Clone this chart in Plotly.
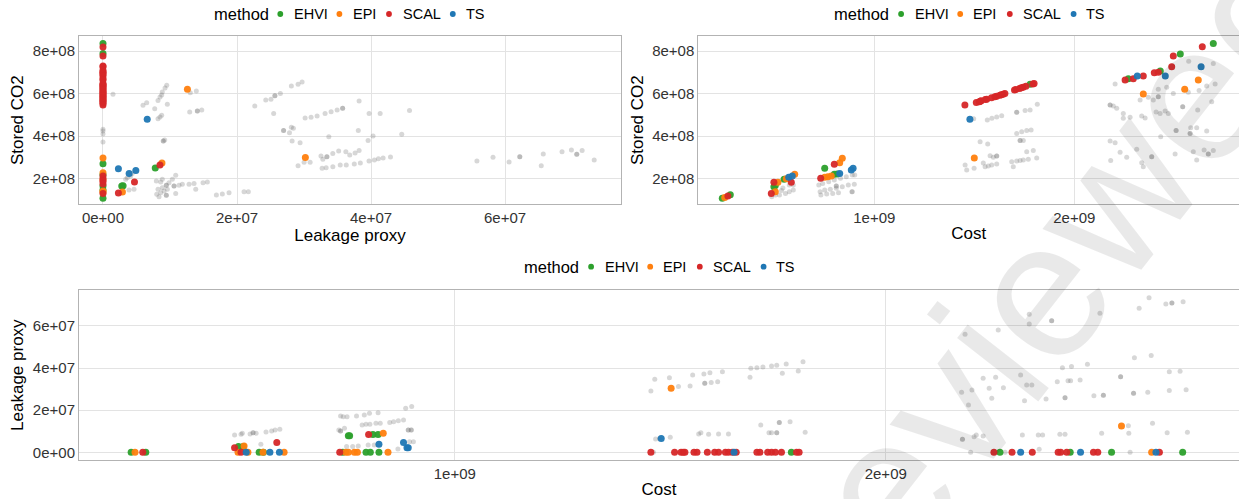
import numpy as np
import plotly.graph_objects as go

# ---------------------------------------------------------------------------
# Units: stored CO2 in 1e8, leakage proxy in 1e7, cost in 1e9
# ---------------------------------------------------------------------------

# ---- Panel A: Leakage proxy (x) vs Stored CO2 (y) --------------------------
all_leak_a = [0.149, 0, 0, 0, 0, 0.597, 0.652, 0.772, 0.821, 0.851, 0.876, 0.885, 0.926, 0.951,
              0.821, 0.851, 0.876, 0.960, 0.900, 0.900, 0.921, 1.303, 1.393, 1.294, 1.408, 1.408,
              1.474, 2.265, 0.339, 0.363, 0.413, 0.437, 0.388, 0.463, 0.796, 0.861, 0.885, 0.945,
              0.945, 0.985, 1.035, 1.085, 0.802, 0.861, 0.911, 0.960, 1.06, 1.06, 1.135, 1.184,
              1.284, 1.359, 1.493, 1.557, 0.836, 0.945, 0.945, 1.085, 1.384, 1.692, 1.781, 1.881,
              2.105, 2.169, 0.885, 0.821, 2.429, 2.507, 2.565, 2.565, 2.647, 2.811, 2.911, 2.971,
              2.547, 2.695, 2.695, 2.783, 2.811, 2.841, 2.822, 2.941, 2.911, 3.001, 3.091, 3.016,
              3.105, 3.195, 3.314, 3.404, 3.494, 3.576, 3.576, 3.370, 3.253, 3.341, 3.341, 3.281,
              3.429, 3.517, 3.624, 3.682, 3.762, 3.822, 3.27, 3.33, 3.43, 3.54, 3.63, 3.75, 3.84,
              3.822, 3.956, 3.971, 4.03, 4.136, 3.81, 3.97, 4.05, 4.11, 4.18, 4.29, 4.458, 4.574,
              5.58, 5.82, 6.06, 6.22, 6.22, 6.54, 6.57, 6.85, 6.99, 7.07, 7.07, 7.15, 7.33]
all_co2_a = [5.97, 4.33, 4.24, 4.10, 3.72, 5.45, 5.57, 5.29, 5.68, 5.84, 5.93, 6.07, 6.26, 6.39,
             4.82, 4.90, 4.98, 5.50, 3.77, 3.77, 3.82, 6.04, 6.12, 5.13, 5.18, 5.18,
             5.23, 5.42, 1.97, 2.05, 2.13, 2.25, 1.47, 1.50, 1.89, 1.84, 1.58, 1.69,
             1.69, 1.81, 1.97, 2.16, 1.27, 1.34, 1.42, 1.50, 1.66, 1.66, 1.69, 1.74,
             1.74, 1.77, 1.81, 1.84, 1.15, 1.22, 1.22, 1.31, 1.50, 1.23, 1.28, 1.34,
             1.39, 1.39, 1.97, 1.50, 5.70, 5.73, 5.90, 5.90, 6.01, 6.36, 6.44, 6.54,
             5.07, 4.26, 4.26, 4.16, 4.42, 4.37, 3.77, 3.69, 2.61, 2.77, 2.77, 4.85,
             4.89, 4.95, 5.07, 5.15, 5.23, 5.31, 5.31, 3.97, 3.07, 3.03, 3.03, 2.91,
             3.19, 3.30, 3.27, 3.11, 3.21, 3.33, 2.49, 2.52, 2.56, 2.64, 2.64, 2.69, 2.74,
             5.65, 3.79, 5.07, 4.01, 5.06, 4.26, 2.83, 2.88, 2.94, 2.97, 3.02, 4.09, 5.20,
             2.83, 3.01, 2.78, 3.03, 3.03, 2.61, 3.16, 3.27, 3.35, 3.15, 3.15, 3.32, 2.88]

ehvi_leak_a = [0, 0, 0, 0, 0, 0, 0, 0.28, 0.30, 0.78]
ehvi_co2_a = [8.36, 7.89, 2.70, 2.18, 1.66, 1.47, 1.08, 1.66, 1.67, 2.50]
epi_leak_a = [0, 0, 0, 0, 0, 0.29, 1.26, 0.88, 3.02]
epi_co2_a = [2.97, 2.28, 1.95, 1.42, 1.37, 1.37, 6.20, 2.74, 3.00]
scal_leak_a = [0, 0, 0, 0, 0, 0, 0, 0, 0, 0, 0, 0, 0, 0, 0, 0, 0, 0, 0, 0, 0, 0, 0, 0, 0,
               0, 0, 0, 0, 0, 0, 0, 0, 0, 0, 0, 0.23, 0.47, 0.85]
scal_co2_a = [8.19, 7.77, 7.30, 7.26, 7.10, 7.00, 6.98, 6.90, 6.83, 6.70, 6.64, 6.48, 6.43,
              6.38, 6.33, 6.28, 6.22, 6.17, 6.10, 6.05, 6.00, 5.95, 5.90, 5.85, 5.80, 5.75,
              5.70, 5.65, 5.60, 5.55, 5.46, 2.13, 2.00, 1.88, 1.75, 1.31, 1.33, 1.84, 2.64]
ts_leak_a = [0.66, 0.23, 0.39, 0.49]
ts_co2_a = [4.79, 2.47, 2.24, 2.38]

# ---- Panel B: Cost (x) vs Stored CO2 (y) -----------------------------------
all_cost_b = [0.487, 0.506, 0.526, 0.556, 0.575, 0.595, 0.536, 0.575, 0.595, 0.543,
              0.7225, 0.742, 0.772, 0.80, 0.831, 0.86, 0.89, 0.729, 0.752, 0.78, 0.81, 0.84,
              0.87, 0.90, 0.733, 0.762, 0.792, 0.821, 0.89, 0.81, 0.81, 0.902, 0.888,
              1.454, 1.462, 1.499, 1.529, 1.545, 1.554, 1.57, 1.587, 1.612, 1.567, 1.579,
              1.612, 1.612, 1.595, 1.687, 1.695, 1.712, 1.729, 1.745, 1.77, 1.812, 1.712,
              1.737, 1.762, 1.784, 1.729, 1.729, 1.745, 1.762, 1.795, 1.565, 1.588, 1.612,
              1.637, 1.712, 1.712, 1.754, 1.779, 1.815, 1.497,
              2.204, 2.179, 2.179, 2.195, 2.212, 2.245, 2.279, 2.337, 2.245, 2.179, 2.204,
              2.229, 2.262, 2.182, 2.312, 2.337, 2.345, 2.387, 2.387, 2.329, 2.37, 2.395,
              2.42, 2.462, 2.495, 2.42, 2.42, 2.454, 2.47, 2.409, 2.429, 2.432, 2.509, 2.509,
              2.542, 2.542, 2.579, 2.579, 2.582, 2.612, 2.662, 2.617, 2.687, 2.662, 2.704,
              2.572, 2.695, 2.612, 2.595, 2.649, 2.67, 2.67, 2.695, 2.504, 2.57, 2.624, 2.354]
all_co2_b = [1.15, 1.23, 1.23, 1.31, 1.39, 1.47, 1.44, 1.70, 1.70, 1.56,
             1.70, 1.78, 1.86, 1.94, 2.02, 2.09, 2.17, 1.39, 1.47, 1.50, 1.55, 1.62,
             1.70, 1.74, 1.23, 1.28, 1.31, 1.34, 1.39, 1.66, 1.66, 2.17, 1.39,
             2.64, 2.41, 2.49, 3.74, 2.74, 2.56, 2.60, 2.64, 2.69, 3.63, 3.08,
             3.07, 3.07, 3.01, 2.80, 2.56, 2.83, 2.85, 2.88, 2.91, 2.97, 4.13,
             4.21, 4.26, 4.29, 3.79, 3.79, 3.79, 3.27, 3.32, 4.76, 4.84, 4.90,
             4.96, 5.12, 5.12, 5.20, 5.23, 5.50, 4.82,
             6.45, 5.46, 5.46, 5.42, 5.31, 5.07, 4.89, 4.95, 4.84, 3.77, 3.69,
             3.24, 3.01, 2.85, 3.38, 2.75, 2.56, 3.03, 3.03, 5.70, 5.83, 5.70,
             6.20, 6.30, 6.01, 5.85, 5.85, 5.18, 5.07, 5.13, 5.07, 3.97, 4.26, 4.26,
             5.38, 5.38, 4.13, 4.13, 4.40, 4.40, 4.24, 5.23, 5.62, 6.36, 6.45,
             7.52, 7.42, 2.88, 3.27, 3.35, 3.16, 3.16, 3.32, 3.16, 6.06, 6.14, 4.85]

ehvi_cost_b = [0.24, 0.28, 0.498, 0.505, 0.549, 0.752, 0.80, 0.815, 1.779, 2.27, 2.43, 2.53, 2.695]
ehvi_co2_b = [1.08, 1.25, 1.62, 1.68, 1.97, 2.49, 2.21, 2.22, 6.44, 6.70, 7.06, 7.86, 8.36]
epi_cost_b = [0.252, 0.505, 0.518, 0.56, 0.602, 0.752, 0.768, 0.785, 0.827, 0.84, 1.50, 2.345,
              2.552, 2.62]
epi_co2_b = [1.12, 1.39, 1.83, 2.00, 2.21, 2.07, 2.09, 2.13, 2.75, 2.96, 2.97, 5.98,
             6.20, 6.64]
scal_cost_b = [0.268, 0.485, 0.498, 0.585, 0.732, 0.80,
               1.453, 1.51, 1.525, 1.53, 1.534, 1.555, 1.562, 1.586, 1.603, 1.612, 1.628, 1.635,
               1.644, 1.653, 1.701, 1.708, 1.726, 1.735, 1.744, 1.758, 1.793, 1.799,
               2.254, 2.295, 2.345, 2.40, 2.42, 2.487, 2.495, 2.64]
scal_co2_b = [1.19, 1.31, 1.83, 1.83, 2.02, 2.68,
              5.46, 5.58, 5.62, 5.64, 5.66, 5.72, 5.74, 5.80, 5.85, 5.88, 5.92, 5.95,
              5.97, 6.00, 6.17, 6.19, 6.24, 6.27, 6.30, 6.34, 6.45, 6.47,
              6.64, 6.70, 6.83, 6.98, 7.00, 7.26, 7.77, 8.20]
ts_cost_b = [0.572, 0.59, 0.827, 0.885, 0.894, 1.478, 2.315, 2.455, 2.634]
ts_co2_b = [2.07, 2.13, 2.25, 2.41, 2.49, 4.79, 6.83, 6.83, 7.26]

# ---- Panel C: Cost (x) vs Leakage proxy (y) --------------------------------
all_cost_c = [0.489, 0.504, 0.507, 0.525, 0.532, 0.532, 0.539, 0.562, 0.575, 0.583, 0.594, 0.55,
              0.735, 0.741, 0.75, 0.731, 0.735, 0.735, 0.744, 0.772, 0.79, 0.802, 0.822, 0.785,
              0.794, 0.803, 0.817, 0.827, 0.849, 0.858, 0.869, 0.881, 0.749, 0.763, 0.776,
              0.799, 0.813, 0.886, 0.90, 0.868, 0.895, 0.904, 0.892, 0.892, 0.899, 0.899,
              1.455, 1.464, 1.498, 1.519, 1.546, 1.552, 1.578, 1.592, 1.58, 1.58, 1.595, 1.61,
              1.621, 1.685, 1.687, 1.701, 1.715, 1.735, 1.747, 1.769, 1.808, 1.76, 1.797,
              1.466, 1.475, 1.50, 1.566, 1.571, 1.589, 1.612, 1.635, 1.71, 1.729, 1.735, 1.747,
              1.747, 1.753, 1.753, 1.778, 1.813, 1.461,
              2.184, 2.226, 2.255, 2.273, 2.24, 2.176, 2.20, 2.246, 2.192, 2.178, 2.178, 2.205,
              2.21, 2.226, 2.197, 2.261, 2.313, 2.327, 2.339, 2.322, 2.333, 2.333, 2.385, 2.385,
              2.317, 2.354, 2.364, 2.356, 2.277, 2.398, 2.41, 2.431, 2.423, 2.429, 2.451, 2.468,
              2.372, 2.416, 2.416, 2.404, 2.416, 2.497, 2.483, 2.505, 2.505, 2.501, 2.545, 2.545,
              2.575, 2.575, 2.608, 2.577, 2.616, 2.563, 2.564, 2.619, 2.653, 2.70, 2.658, 2.683,
              2.658, 2.697, 2.588, 2.611, 2.65, 2.664, 2.664, 2.69, 2.567]
all_leak_c = [0.82, 0.86, 0.90, 0.87, 0.93, 0.93, 0.90, 0.96, 1.01, 1.06, 1.09, 0.38,
              1.72, 1.69, 1.69, 1.06, 1.01, 1.01, 1.14, 1.72, 1.77, 1.85, 1.88, 1.30,
              1.33, 1.33, 1.38, 1.38, 1.41, 1.45, 1.50, 1.53, 0.27, 0.27, 0.30,
              0.35, 0.35, 2.09, 2.17, 0.16, 0.50, 0.50, 1.06, 1.06, 1.06, 1.06,
              2.91, 3.47, 3.54, 3.12, 3.15, 3.67, 3.72, 3.78, 3.28, 3.28, 3.32, 3.35,
              3.83, 3.56, 3.99, 4.02, 4.05, 4.10, 4.13, 4.19, 4.30, 3.75, 3.86,
              0.63, 0.66, 0.71, 0.87, 0.93, 0.86, 0.87, 0.87, 1.30, 0.93, 0.93, 0.93,
              0.93, 1.41, 1.41, 1.45, 0.95, 0.0,
              5.61, 3.52, 3.56, 3.07, 3.04, 2.85, 2.96, 2.57, 2.25, 0.62, 0.62, 0.74,
              0.82, 0.77, 0.0, 5.81, 3.67, 3.20, 3.20, 2.45, 6.56, 6.09, 6.25, 6.25,
              0.82, 0.82, 0.82, 0.14, 0.0, 3.35, 4.02, 4.07, 3.40, 3.40, 3.43, 4.18,
              2.53, 2.59, 2.59, 0.86, 0.86, 6.60, 2.69, 2.71, 2.71, 0.90, 3.59, 3.59,
              2.80, 2.80, 2.85, 4.49, 4.60, 1.26, 0.90, 1.38, 0.93, 0.95, 3.83, 3.85,
              2.93, 2.97, 6.84, 7.34, 7.04, 7.09, 7.09, 7.15, 0.0]

ehvi_cost_c = [0.249, 0.283, 0.498, 0.509, 0.546, 0.556, 0.74, 0.753, 0.756, 0.794, 0.804,
               0.81, 0.822, 0.824, 1.781, 2.265, 2.428, 2.524, 2.689]
ehvi_leak_c = [0, 0, 0.27, 0.28, 0, 0, 0, 0.79, 0.79, 0, 0,
               0.85, 0.85, 0, 0, 0, 0, 0, 0]
epi_cost_c = [0.258, 0.497, 0.511, 0.52, 0.555, 0.604, 0.747, 0.753, 0.767, 0.774, 0.834,
              0.845, 1.502, 2.547, 2.617]
epi_leak_c = [0, 0, 0.30, 0, 0, 0, 0, 0, 0, 0, 0.90,
              0, 3.04, 1.25, 0]
scal_cost_c = [0.276, 0.489, 0.504, 0.587, 0.733, 0.80,
               1.455, 1.51, 1.525, 1.53, 1.534, 1.555, 1.562, 1.586, 1.603, 1.612, 1.628, 1.635,
               1.644, 1.653, 1.701, 1.708, 1.726, 1.735, 1.744, 1.758, 1.793, 1.799,
               2.251, 2.293, 2.34, 2.40, 2.406, 2.42, 2.482, 2.492, 2.635]
scal_leak_c = [0, 0.22, 0, 0.46, 0, 0.85,
               0, 0, 0, 0, 0, 0, 0, 0, 0, 0, 0, 0,
               0, 0, 0, 0, 0, 0, 0, 0, 0, 0,
               0, 0, 0, 0, 0, 0, 0, 0, 0]
ts_cost_c = [0.516, 0.571, 0.593, 0.824, 0.881, 0.889, 0.892, 1.479, 1.648, 2.313, 2.452, 2.627]
ts_leak_c = [0, 0, 0, 0.38, 0.47, 0.22, 0.22, 0.66, 0, 0, 0, 0]

# ---- Axis ticks ------------------------------------------------------------
co2_ticks = [2e8, 4e8, 6e8, 8e8]
co2_ticktext = ["2e+08", "4e+08", "6e+08", "8e+08"]
leak_ticks = [0, 2e7, 4e7, 6e7]
leak_ticktext = ["0e+00", "2e+07", "4e+07", "6e+07"]
cost_ticks = [1e9, 2e9]
cost_ticktext = ["1e+09", "2e+09"]

methods = ["EHVI", "EPI", "SCAL", "TS"]
colors = {"EHVI": "#2ca02c", "EPI": "#ff7f0e", "SCAL": "#d62728", "TS": "#1f77b4"}

CO2, LEAK, COST = 1e8, 1e7, 1e9
FONT = "Liberation Sans, Arial, Helvetica, sans-serif"
W, H = 1239, 499

fig = go.Figure()

panels = [
    # (xaxis, yaxis, grey x, grey y, x scale, y scale, {method: (x, y)})
    ("x", "y", all_leak_a, all_co2_a, LEAK, CO2,
     {"EHVI": (ehvi_leak_a, ehvi_co2_a), "EPI": (epi_leak_a, epi_co2_a),
      "SCAL": (scal_leak_a, scal_co2_a), "TS": (ts_leak_a, ts_co2_a)}),
    ("x2", "y2", all_cost_b, all_co2_b, COST, CO2,
     {"EHVI": (ehvi_cost_b, ehvi_co2_b), "EPI": (epi_cost_b, epi_co2_b),
      "SCAL": (scal_cost_b, scal_co2_b), "TS": (ts_cost_b, ts_co2_b)}),
    ("x3", "y3", all_cost_c, all_leak_c, COST, LEAK,
     {"EHVI": (ehvi_cost_c, ehvi_leak_c), "EPI": (epi_cost_c, epi_leak_c),
      "SCAL": (scal_cost_c, scal_leak_c), "TS": (ts_cost_c, ts_leak_c)}),
]

for xa, ya, gx, gy, sx, sy, pareto in panels:
    # all evaluated designs in translucent grey
    fig.add_trace(go.Scatter(
        x=np.array(gx) * sx, y=np.array(gy) * sy, mode="markers",
        marker=dict(size=5, color="rgba(110,110,110,0.28)", line=dict(width=0)),
        xaxis=xa, yaxis=ya, showlegend=False, hoverinfo="skip"))
    # non-dominated designs per method
    for m in methods:
        px_, py_ = pareto[m]
        fig.add_trace(go.Scatter(
            x=np.array(px_) * sx, y=np.array(py_) * sy, mode="markers", name=m,
            marker=dict(size=7, color=colors[m], opacity=0.95, line=dict(width=0)),
            xaxis=xa, yaxis=ya, showlegend=False))

grid = "#e3e3e3"
border = "#b3b3b3"
tickfont = dict(family=FONT, size=15, color="#333333")
titlefont = dict(family=FONT, size=17, color="#000000")


def axis(domain, rng, tv, tt, title, mirror, standoff, anchor):
    return dict(domain=domain, range=rng, tickvals=tv, ticktext=tt, tickfont=tickfont,
                title=dict(text=title, font=titlefont, standoff=standoff),
                showgrid=True, gridcolor=grid, gridwidth=1, zeroline=False,
                showline=True, linecolor=border, linewidth=1, mirror=mirror,
                ticks="", anchor=anchor, automargin=False, fixedrange=True)


dA_x = [79 / W, 621 / W]
dB_x = [698.3 / W, 1.0]
dC_x = [79 / W, 1.0]
dTop_y = [1 - 204.3 / H, 1 - 36 / H]
dC_y = [1 - 460 / H, 1 - 290.3 / H]

fig.update_layout(
    width=W, height=H, autosize=False,
    margin=dict(l=0, r=0, t=0, b=0, pad=0),
    paper_bgcolor="white", plot_bgcolor="white",
    font=dict(family=FONT, color="#000000"),
    showlegend=False,
    xaxis=axis(dA_x, [-0.358e7, 7.73e7], leak_ticks, leak_ticktext, "Leakage proxy", True, 1, "y"),
    yaxis=axis(dTop_y, [0.797e8, 8.707e8], co2_ticks, co2_ticktext, "Stored CO2", True, 4, "x"),
    xaxis2=axis(dB_x, [0.12e9, 2.8235e9], cost_ticks, cost_ticktext, "Cost", True, 1, "y2"),
    yaxis2=axis(dTop_y, [0.797e8, 8.707e8], co2_ticks, co2_ticktext, "Stored CO2", False, 4, "x2"),
    xaxis3=axis(dC_x, [0.128e9, 2.8197e9], cost_ticks, cost_ticktext, "Cost", True, 3, "y3"),
    yaxis3=axis(dC_y, [-0.366e7, 7.695e7], leak_ticks, leak_ticktext, "Leakage proxy", False, 4, "x3"),
)

# ---- "method" keys above each panel (compact horizontal key) -------------
key_rows = [(212.6, 14.0), (833.4, 14.0), (523.4, 266.7)]   # title left x, centre y (px)
key_dot_dx = [67.7, 126.8, 176.4, 240.2]
key_text_dx = [80.4, 139.0, 189.0, 252.0]
for x0, yc in key_rows:
    fig.add_annotation(text="method", xref="paper", yref="paper", x=(x0 - 1) / W, y=1 - yc / H,
                       xanchor="left", yanchor="middle", showarrow=False,
                       font=dict(family=FONT, size=16.5, color="#000000"))
    for m, ddx, tdx in zip(methods, key_dot_dx, key_text_dx):
        fig.add_shape(type="circle", xref="paper", yref="paper",
                      xsizemode="pixel", ysizemode="pixel",
                      xanchor=(x0 + ddx) / W, yanchor=1 - yc / H,
                      x0=-2.9, x1=2.9, y0=-2.9, y1=2.9,
                      fillcolor=colors[m], line=dict(width=0))
        fig.add_annotation(text=m, xref="paper", yref="paper", x=(x0 + tdx - 1) / W,
                           y=1 - yc / H, xanchor="left", yanchor="middle", showarrow=False,
                           font=dict(family=FONT, size=14.5, color="#000000"))

# translucent diagonal watermark across the page
fig.add_annotation(
    text="Preprint not peer reviewed", xref="paper", yref="paper",
    x=586 / W, y=1 - 870 / H, xanchor="center", yanchor="middle",
    showarrow=False, textangle=-52,
    font=dict(family=FONT, size=195, color="rgba(0,0,0,0.085)"))

fig.write_html("out.html")
